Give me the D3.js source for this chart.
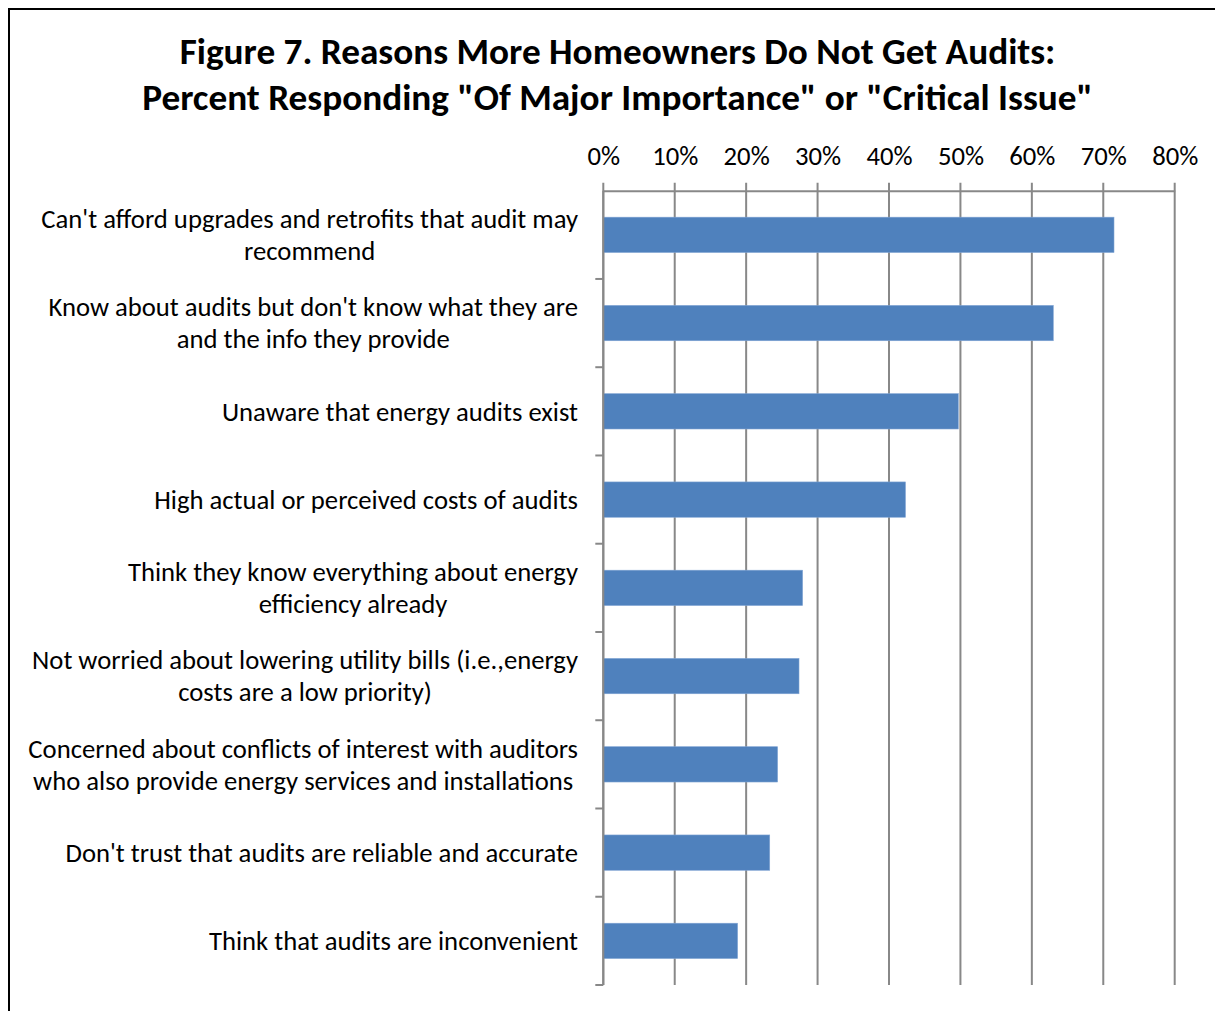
<!DOCTYPE html>
<html><head><meta charset="utf-8">
<script src="https://cdn.jsdelivr.net/npm/d3@7"></script>
<style>body{margin:0;background:#fff}svg{display:block}</style>
</head><body>
<script>
const titleLines = ['Figure 7. Reasons More Homeowners Do Not Get Audits:', 'Percent Responding "Of Major Importance" or "Critical Issue"'];
const categories = [
  "Can't afford upgrades and retrofits that audit may\nrecommend",
  "Know about audits but don't know what they are\nand the info they provide",
  "Unaware that energy audits exist",
  "High actual or perceived costs of audits",
  "Think they know everything about energy\nefficiency already",
  "Not worried about lowering utility bills (i.e.,energy\ncosts are a low priority)",
  "Concerned about conflicts of interest with auditors\nwho also provide energy services and installations",
  "Don't trust that audits are reliable and accurate",
  "Think that audits are inconvenient"
];
const values = [71.5, 63.0, 49.7, 42.3, 27.9, 27.4, 24.4, 23.3, 18.8];
const tickValues = [0, 10, 20, 30, 40, 50, 60, 70, 80];

(function () {
const W = 1215, H = 1011;
const FONT = "Carlito, Calibri, Lato, 'Open Sans', sans-serif";
const svg = d3.select('body').append('svg').attr('width', W).attr('height', H);

svg.append('rect').attr('x', 9).attr('y', 9).attr('width', 1230).attr('height', 1030)
  .attr('fill', 'none').attr('stroke', '#000').attr('stroke-width', 2);

const pL = 603.3, pR = 1174.7, pT = 190.7, pB = 985;
const x = d3.scaleLinear().domain([0, 80]).range([pL, pR]);
const y = d3.scaleBand().domain(categories).range([pT, pB]).paddingInner(0.6).paddingOuter(0.3);
const yb = d3.scaleBand().domain(categories).range([pT, pB]);

// title
const title = svg.append('g');
titleLines.forEach((t, i) => {
  title.append('text').attr('x', 617.5).attr('y', 64 + i * 46)
    .attr('text-anchor', 'middle').attr('font-family', FONT).attr('font-weight', 'bold')
    .attr('font-size', 31).attr('fill', '#000').text(t);
});
{
  const n = title.selectAll('text').nodes()[1];
  const w = n.getComputedTextLength();
  const fs = 31 * 951 / w;
  title.selectAll('text').attr('font-size', fs);
}

// gridlines
svg.append('g').selectAll('line').data(tickValues).join('line')
  .attr('x1', d => x(d)).attr('x2', d => x(d)).attr('y1', pT - 8).attr('y2', pB)
  .attr('stroke', '#888').attr('stroke-width', 2);

// bars
svg.append('g').selectAll('rect').data(categories).join('rect')
  .attr('x', x(0)).attr('y', d => y(d))
  .attr('width', (d, i) => x(values[i]) - x(0)).attr('height', y.bandwidth())
  .attr('fill', '#4F81BD').attr('stroke', '#7FA3D3').attr('stroke-width', 0.6);

// left axis
svg.append('line').attr('x1', pL).attr('x2', pL).attr('y1', pT).attr('y2', pB)
  .attr('stroke', '#888').attr('stroke-width', 2);
const bounds = categories.map(c => yb(c)).concat([pB]).slice(1);
svg.append('g').selectAll('line').data(bounds).join('line')
  .attr('x1', pL - 8).attr('x2', pL).attr('y1', d => d).attr('y2', d => d)
  .attr('stroke', '#888').attr('stroke-width', 2);

// labels
const lab = svg.append('g');
const labTexts = [];
categories.forEach(c => {
  const lines = c.split('\n');
  const cy = yb(c) + yb.bandwidth() / 2;
  const t = lab.append('text').attr('text-anchor', 'middle').attr('font-family', FONT)
    .attr('font-size', 22).attr('fill', '#000');
  lines.forEach((ln, j) => {
    t.append('tspan').attr('y', cy + (j - (lines.length - 1) / 2) * 32)
      .attr('dy', '0.35em').text(ln);
  });
  labTexts.push(t);
});
let fsLab = 22;
{
  let maxW = 0;
  lab.selectAll('tspan').each(function () { maxW = Math.max(maxW, this.getComputedTextLength()); });
  fsLab = 22 * 550 / maxW;
  lab.selectAll('text').attr('font-size', fsLab);
  labTexts.forEach(t => {
    let w = 0;
    t.selectAll('tspan').each(function () { w = Math.max(w, this.getComputedTextLength()); });
    t.selectAll('tspan').attr('x', 578 - w / 2);
  });
}

// top axis
const xAxis = svg.append('g').attr('transform', `translate(0,${pT})`)
  .call(d3.axisTop(x).tickValues(tickValues).tickFormat(d => d + '%').tickSize(0).tickPadding(26));
xAxis.select('.domain').attr('stroke', '#888').attr('stroke-width', 2);
xAxis.selectAll('text').attr('font-family', FONT).attr('font-size', fsLab).attr('fill', '#000');
})();
</script>
</body></html>
